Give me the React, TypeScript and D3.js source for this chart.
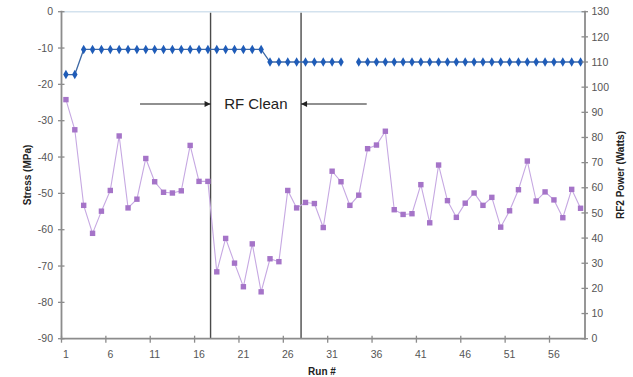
import React, { useEffect, useRef } from 'react';
import * as d3 from 'd3';

// run numbers 1..59
const runs: number[] = d3.range(1, 60);

// stress (MPa), left axis
const stress: number[] = [
  -24.2, -32.5, -53.3, -61.0, -54.9, -49.2, -34.2, -54.0, -51.6, -40.4,
  -46.8, -49.7, -49.9, -49.3, -36.8, -46.7, -46.7, -71.6, -62.4, -69.2,
  -75.7, -63.9, -77.1, -68.0, -68.8, -49.2, -54.0, -52.5, -52.8, -59.4,
  -43.9, -46.8, -53.3, -50.5, -37.7, -36.7, -32.9, -54.5, -55.8, -55.6,
  -47.6, -58.1, -42.2, -52.0, -56.6, -52.7, -49.9, -53.3, -51.1, -59.3,
  -54.8, -49.0, -41.1, -52.1, -49.6, -51.8, -56.7, -48.9, -54.1,
];

// RF2 power (Watts), right axis; run 33 missing
const power: (number | null)[] = [
  105, 105, 115, 115, 115, 115, 115, 115, 115, 115,
  115, 115, 115, 115, 115, 115, 115, 115, 115, 115,
  115, 115, 115, 110, 110, 110, 110, 110, 110, 110,
  110, 110, null, 110, 110, 110, 110, 110, 110, 110,
  110, 110, 110, 110, 110, 110, 110, 110, 110, 110,
  110, 110, 110, 110, 110, 110, 110, 110, 110,
];

const stressTicks = [0, -10, -20, -30, -40, -50, -60, -70, -80, -90];
const powerTicks = [0, 10, 20, 30, 40, 50, 60, 70, 80, 90, 100, 110, 120, 130];
const runLabels = [1, 6, 11, 16, 21, 26, 31, 36, 41, 46, 51, 56];

// RF clean window (in run units) and annotation
const cleanStart = 17.3;
const cleanEnd = 27.5;
const arrowFrom = [9.35, 34.9];
const arrowStress = -25.4;

const font = 'Arial, "Liberation Sans", sans-serif';

const App = () => {
  const ref = useRef<SVGSVGElement>(null);

  useEffect(() => {
    const W = 633;
    const H = 377;
    const left = 61.5;
    const right = 585;
    const top = 11.7;
    const bottom = 338.7;

    const svg = d3.select(ref.current).attr('width', W).attr('height', H);
    svg.selectAll('*').remove();

    const x = d3.scaleLinear().domain([0.5, 59.5]).range([left, right]);
    const yL = d3.scaleLinear().domain([-90, 0]).range([bottom, top]);
    const yR = d3.scaleLinear().domain([0, 130]).range([bottom, top]);

    const axisColor = '#8c8c8c';
    const labelColor = '#555';

    // marker for arrows
    const defs = svg.append('defs');
    defs
      .append('marker')
      .attr('id', 'arr')
      .attr('viewBox', '0 0 10 10')
      .attr('refX', 10)
      .attr('refY', 5)
      .attr('markerWidth', 7)
      .attr('markerHeight', 6)
      .attr('markerUnits', 'userSpaceOnUse')
      .attr('orient', 'auto')
      .append('path')
      .attr('d', 'M0,0L10,5L0,10Z')
      .attr('fill', '#222');

    // top border
    svg
      .append('line')
      .attr('x1', left)
      .attr('x2', right)
      .attr('y1', top)
      .attr('y2', top)
      .attr('stroke', '#d3e2ee')
      .attr('stroke-width', 1.5);

    // RF clean verticals
    svg
      .selectAll('.clean')
      .data([cleanStart, cleanEnd])
      .join('line')
      .attr('x1', (d) => x(d))
      .attr('x2', (d) => x(d))
      .attr('y1', top + 1)
      .attr('y2', bottom)
      .attr('stroke', '#4a4a4a')
      .attr('stroke-width', 1.4);

    // arrows
    svg
      .selectAll('.arrow')
      .data([
        [arrowFrom[0], cleanStart],
        [arrowFrom[1], cleanEnd],
      ])
      .join('line')
      .attr('x1', (d) => x(d[0]))
      .attr('x2', (d) => x(d[1]))
      .attr('y1', yL(arrowStress))
      .attr('y2', yL(arrowStress))
      .attr('stroke', '#222')
      .attr('stroke-width', 1.2)
      .attr('marker-end', 'url(#arr)');

    svg
      .append('text')
      .attr('x', x((cleanStart + cleanEnd) / 2))
      .attr('y', yL(arrowStress))
      .attr('dy', '0.35em')
      .attr('text-anchor', 'middle')
      .attr('font-family', font)
      .attr('font-size', 15)
      .attr('fill', '#222')
      .text('RF Clean');

    // stress series
    const stressLine = d3
      .line<number>()
      .x((d, i) => x(runs[i]))
      .y((d) => yL(d));
    svg
      .append('path')
      .datum(stress)
      .attr('d', stressLine)
      .attr('fill', 'none')
      .attr('stroke', '#c6a8e2')
      .attr('stroke-width', 1.1);
    svg
      .selectAll('.sq')
      .data(stress)
      .join('rect')
      .attr('x', (d, i) => x(runs[i]) - 2.7)
      .attr('y', (d) => yL(d) - 2.7)
      .attr('width', 5.4)
      .attr('height', 5.4)
      .attr('fill', '#a574c8');

    // power series
    const powerLine = d3
      .line<number | null>()
      .defined((d) => d !== null)
      .x((d, i) => x(runs[i]))
      .y((d) => yR(d as number));
    svg
      .append('path')
      .datum(power)
      .attr('d', powerLine)
      .attr('fill', 'none')
      .attr('stroke', '#3f6aa6')
      .attr('stroke-width', 1.3);
    svg
      .selectAll('.dia')
      .data(runs.filter((r, i) => power[i] !== null))
      .join('path')
      .attr('d', d3.symbol(d3.symbolDiamond, 26)())
      .attr('transform', (r) => `translate(${x(r)},${yR(power[r - 1] as number)})`)
      .attr('fill', '#1f5cb8');

    // axes lines
    const axes = svg.append('g').attr('stroke', axisColor).attr('stroke-width', 1.8);
    axes.append('line').attr('x1', left).attr('x2', left).attr('y1', top - 1).attr('y2', bottom + 1);
    axes.append('line').attr('x1', right).attr('x2', right).attr('y1', top - 1).attr('y2', bottom + 1);
    axes.append('line').attr('x1', left).attr('x2', right).attr('y1', bottom).attr('y2', bottom);

    // left ticks + labels
    axes
      .selectAll('.lt')
      .data(stressTicks)
      .join('line')
      .attr('x1', left - 3.5)
      .attr('x2', left + 3)
      .attr('y1', (d) => yL(d))
      .attr('y2', (d) => yL(d))
      .attr('stroke-width', 1.3);
    svg
      .selectAll('.ll')
      .data(stressTicks)
      .join('text')
      .attr('x', left - 8.5)
      .attr('y', (d) => yL(d))
      .attr('dy', '0.35em')
      .attr('text-anchor', 'end')
      .attr('font-family', font)
      .attr('font-size', 10.5)
      .attr('fill', labelColor)
      .text((d) => d);

    // right ticks + labels
    axes
      .selectAll('.rt')
      .data(powerTicks)
      .join('line')
      .attr('x1', right - 3.5)
      .attr('x2', right + 3)
      .attr('y1', (d) => yR(d))
      .attr('y2', (d) => yR(d))
      .attr('stroke-width', 1.3);
    svg
      .selectAll('.rl')
      .data(powerTicks)
      .join('text')
      .attr('x', right + 6.5)
      .attr('y', (d) => yR(d))
      .attr('dy', '0.35em')
      .attr('font-family', font)
      .attr('font-size', 10.5)
      .attr('fill', labelColor)
      .text((d) => d);

    // bottom ticks at category boundaries + labels at centers
    axes
      .selectAll('.bt')
      .data(runLabels)
      .join('line')
      .attr('x1', (d) => x(d - 0.5))
      .attr('x2', (d) => x(d - 0.5))
      .attr('y1', bottom - 3)
      .attr('y2', bottom + 4)
      .attr('stroke-width', 1.3);
    svg
      .selectAll('.bl')
      .data(runLabels)
      .join('text')
      .attr('x', (d) => x(d))
      .attr('y', 354)
      .attr('dy', '0.35em')
      .attr('text-anchor', 'middle')
      .attr('font-family', font)
      .attr('font-size', 10.5)
      .attr('fill', labelColor)
      .text((d) => d);

    // titles
    svg
      .append('text')
      .attr('transform', 'translate(27,175) rotate(-90)')
      .attr('text-anchor', 'middle')
      .attr('dy', '0.35em')
      .attr('font-family', font)
      .attr('font-size', 10)
      .attr('font-weight', 'bold')
      .attr('fill', '#222')
      .text('Stress (MPa)');
    svg
      .append('text')
      .attr('transform', 'translate(620,175) rotate(-90)')
      .attr('text-anchor', 'middle')
      .attr('dy', '0.35em')
      .attr('font-family', font)
      .attr('font-size', 10)
      .attr('font-weight', 'bold')
      .attr('fill', '#222')
      .text('RF2 Power (Watts)');
    svg
      .append('text')
      .attr('x', 322)
      .attr('y', 371.5)
      .attr('dy', '0.35em')
      .attr('text-anchor', 'middle')
      .attr('font-family', font)
      .attr('font-size', 10)
      .attr('font-weight', 'bold')
      .attr('fill', '#222')
      .text('Run #');
  });

  return (
    <div>
      <svg ref={ref} style={{ position: 'absolute', left: 0, top: 0, background: '#fff' }}></svg>
    </div>
  );
};

export default App;
